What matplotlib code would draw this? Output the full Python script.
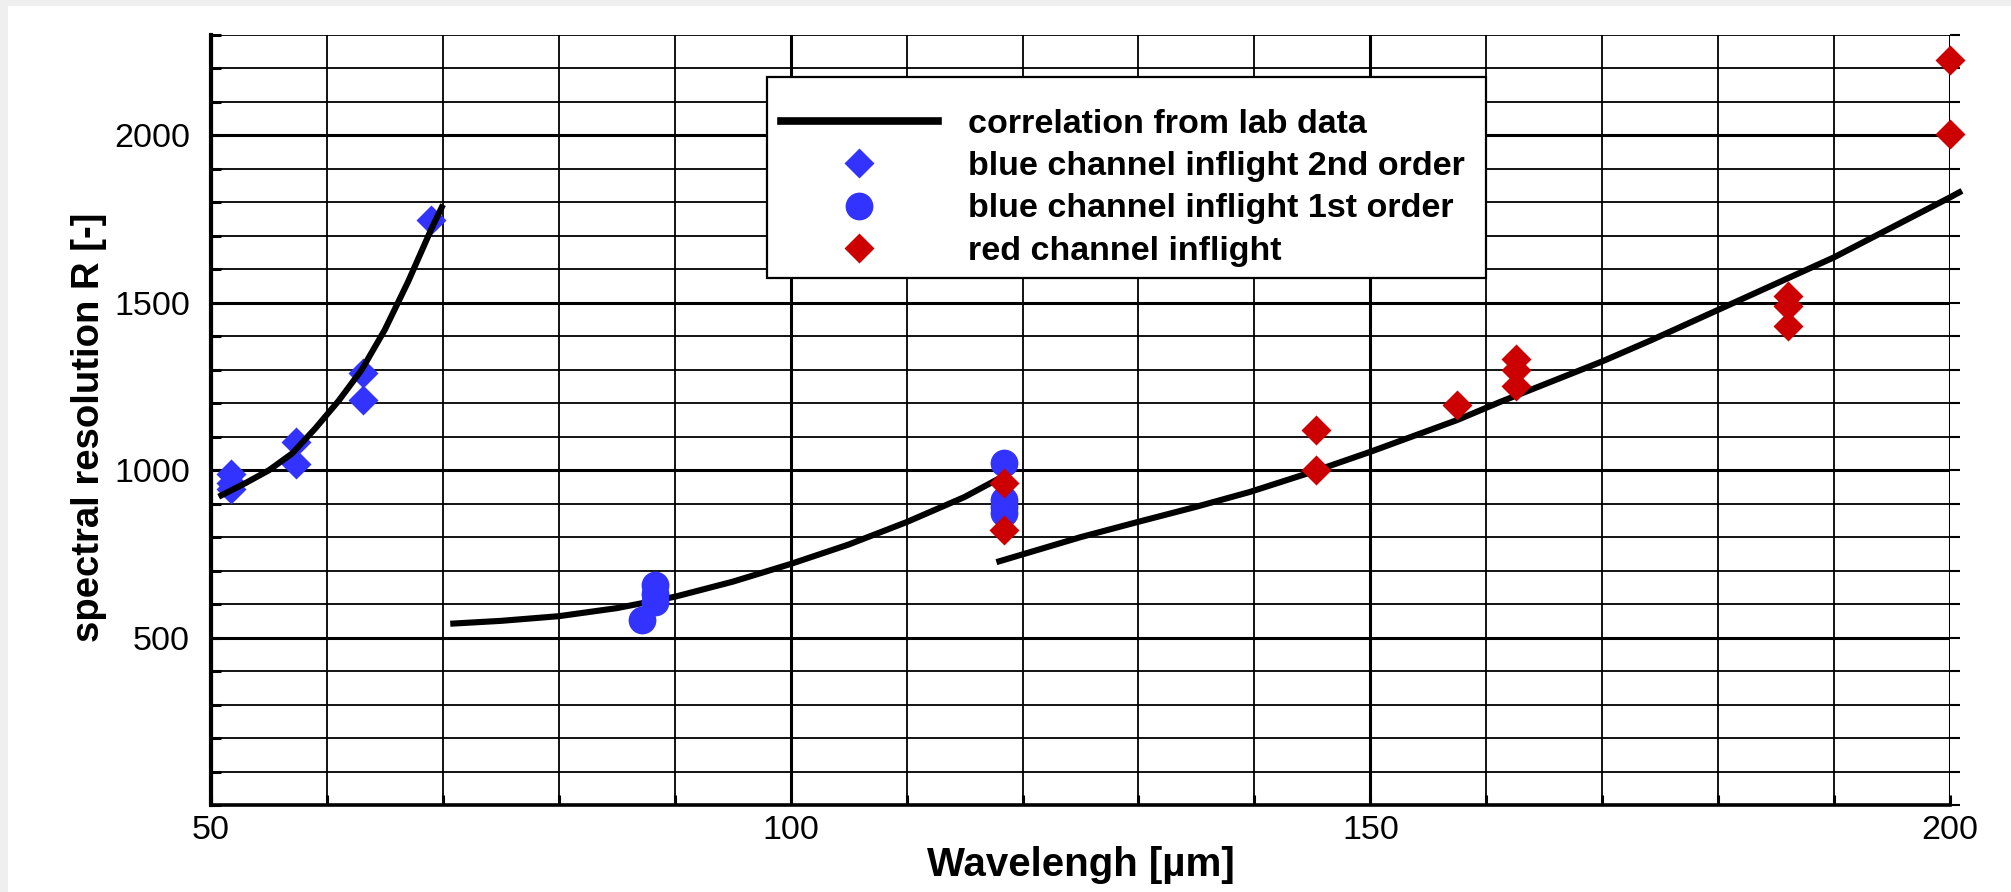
import matplotlib
matplotlib.use("Agg")
import matplotlib.pyplot as plt
from matplotlib.lines import Line2D
from matplotlib.patches import Rectangle
from matplotlib.ticker import FixedLocator, MultipleLocator

plt.rcParams["font.family"] = ["Liberation Sans", "DejaVu Sans"]

# correlation curves from the lab measurements (wavelength in um, resolution R)
lab_blue2_x = [50.9, 53, 55, 57, 59, 61, 63, 65, 67, 69, 69.9]
lab_blue2_r = [925, 962, 1000, 1050, 1125, 1207, 1300, 1420, 1563, 1720, 1785]
lab_blue1_x = [70.9, 75, 80, 85, 90, 95, 100, 105, 110, 115, 118.5]
lab_blue1_r = [542, 550, 564, 588, 622, 667, 720, 778, 845, 920, 985]
lab_red_x = [118, 125, 130, 135, 139.6, 145, 150, 157.5, 161.2, 170, 174.2, 180, 190, 200, 200.8]
lab_red_r = [728, 800, 846, 891, 935, 995, 1055, 1150, 1204, 1325, 1388, 1479, 1636, 1815, 1830]

# inflight measurements
blue2_x = [51.7, 51.7, 51.7, 57.3, 57.3, 63.1, 63.1, 69.0]
blue2_r = [990, 962, 944, 1085, 1020, 1291, 1211, 1747]
blue1_x = [87.2, 88.3, 88.3, 88.3, 118.4, 118.4, 118.4, 118.4]
blue1_r = [552, 606, 630, 656, 1022, 912, 890, 872]
red_x = [118.4, 118.4, 145.3, 145.3, 157.5, 162.6, 162.6, 162.6, 186.0, 186.0, 186.0, 200.0, 200.0]
red_r = [962, 821, 1121, 1002, 1194, 1331, 1299, 1251, 1519, 1492, 1430, 2225, 2004]

x_ticks = [50, 100, 150, 200]
y_ticks = [500, 1000, 1500, 2000]

BLUE = "#3333ff"
RED = "#cc0000"
W, H = 2011, 892
DIAMOND = 15.5
CIRCLE = 20
LW = 4.4

fig = plt.figure(figsize=(W / 100, H / 100), dpi=100)
fig.patch.set_facecolor("#efefef")
fig.add_artist(Rectangle((8 / W, 0), 1, 1 - 6 / H, transform=fig.transFigure,
                         facecolor="white", edgecolor="none", zorder=-5))

ax = fig.add_axes([211 / W, 1 - 805 / H, (1950 - 211) / W, (805 - 35) / H])
ax.set_facecolor("none")

ax.plot(lab_blue2_x, lab_blue2_r, color="black", lw=LW, zorder=4, clip_on=False)
ax.plot(lab_blue1_x, lab_blue1_r, color="black", lw=LW, zorder=4, clip_on=False)
ax.plot(lab_red_x, lab_red_r, color="black", lw=LW, zorder=4, clip_on=False)

ax.plot(blue2_x, blue2_r, ls="none", marker="D", ms=DIAMOND, color=BLUE, mec="none", zorder=3, clip_on=False)
ax.plot(blue1_x, blue1_r, ls="none", marker="o", ms=CIRCLE, color=BLUE, mec="none", zorder=5, clip_on=False)
ax.plot(red_x, red_r, ls="none", marker="D", ms=DIAMOND, color=RED, mec="none", zorder=6, clip_on=False)

ax.set_xlim(50, 200)
ax.set_ylim(0, 2300)
ax.xaxis.set_major_locator(FixedLocator(x_ticks))
ax.xaxis.set_minor_locator(MultipleLocator(10))
ax.yaxis.set_major_locator(FixedLocator(y_ticks))
ax.yaxis.set_minor_locator(MultipleLocator(100))

ax.set_axisbelow(True)
ax.grid(which="major", color="black", lw=2.2)
ax.grid(which="minor", color="black", lw=1.3)

for side in ["top", "right"]:
    ax.spines[side].set_visible(False)
ax.spines["left"].set_linewidth(3.0)
ax.spines["bottom"].set_linewidth(2.6)

ax.tick_params(axis="both", which="both", direction="in", length=7, width=2.2, labelsize=24.5)
ax.tick_params(axis="y", pad=15)
ax.tick_params(axis="x", pad=7)

# short outward ticks on the right edge
sec = ax.secondary_yaxis("right")
sec.yaxis.set_major_locator(MultipleLocator(100))
sec.tick_params(direction="out", length=7, width=1.5, labelright=False)
sec.spines["right"].set_visible(False)

ax.set_xlabel("Wavelengh [µm]", fontsize=29, fontweight="bold")
ax.xaxis.set_label_coords(0.5, (805 - 846) / 770)
ax.set_ylabel("spectral resolution R [-]", fontsize=27.5, fontweight="bold")
ax.yaxis.set_label_coords((107 - 211) / 1739, 0.49)

handles = [
    Line2D([], [], color="black", lw=5.5),
    Line2D([], [], ls="none", marker="D", ms=DIAMOND, color=BLUE, mec="none"),
    Line2D([], [], ls="none", marker="o", ms=CIRCLE, color=BLUE, mec="none"),
    Line2D([], [], ls="none", marker="D", ms=DIAMOND, color=RED, mec="none"),
]
labels = [
    "correlation from lab data",
    "blue channel inflight 2nd order",
    "blue channel inflight 1st order",
    "red channel inflight",
]

# legend frame drawn separately, entries placed inside it
ax.add_patch(Rectangle((767 / W, 1 - 278 / H), (1486 - 767) / W, (278 - 77) / H,
                       transform=fig.transFigure, facecolor="white", edgecolor="black",
                       lw=1.6, zorder=9, clip_on=False))
leg = ax.legend(handles, labels, loc="upper left", bbox_to_anchor=(781 / W, 1 - 109 / H),
                bbox_transform=fig.transFigure, prop={"weight": "bold", "size": 24.5},
                frameon=False, borderpad=0, labelspacing=0.33, handlelength=4.6,
                handletextpad=0.9, borderaxespad=0)
leg.set_zorder(10)

fig.savefig("out.png", dpi=100, facecolor=fig.get_facecolor())
